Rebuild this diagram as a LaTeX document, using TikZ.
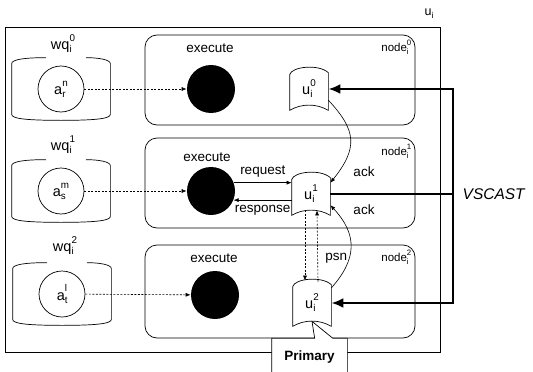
\documentclass[tikz,border=0pt]{standalone}
\usepackage{fontspec}
\setmainfont{Liberation Sans}
\usepackage{tikz}
\usetikzlibrary{arrows.meta, positioning, calc}
\makeatletter
\newcommand{\smallidx}{\fontsize{\fpeval{0.68*\f@size}}{0}\selectfont}
\makeatother
\newcommand{\idx}[2]{\rlap{\raisebox{-0.4ex}{\smallidx #1}}\raisebox{1.05ex}{\smallidx #2}}

\begin{document}
\begin{tikzpicture}[
  x=1pt, y=-1pt, line width=0.7pt,
  font=\fontsize{13.5}{16}\selectfont,
  nodebox/.style={rectangle, draw, rounded corners=12pt, minimum width=270pt, minimum height=90pt},
  queue/.style={rectangle, minimum width=98pt, minimum height=62pt, inner sep=0pt},
  job/.style={circle, draw, minimum size=46pt, inner sep=0pt, font=\fontsize{14.5}{16}\selectfont},
  exec/.style={circle, fill=black, minimum size=48pt, inner sep=0pt},
  ustore/.style={rectangle, minimum width=38pt, minimum height=42pt, inner sep=0pt, font=\fontsize{14.5}{16}\selectfont},
  qlabel/.style={font=\fontsize{14.5}{16}\selectfont},
  nlabel/.style={font=\fontsize{11.5}{13}\selectfont, anchor=east},
  primbox/.style={rectangle, minimum width=75pt, minimum height=38pt, inner sep=0pt},
  vslabel/.style={font=\fontsize{15.5}{18}\selectfont\itshape},
  dotarr/.style={-{Latex[length=5pt,width=4pt]}, dash pattern=on 2pt off 1.5pt, line width=0.6pt},
  arr/.style={-{Latex[length=5pt,width=4pt]}, line width=0.6pt},
  vsline/.style={line width=2.8pt},
  vstip/.style={{Latex[length=12pt,width=10pt]}-{Latex[length=12pt,width=10pt]}}
]
\useasboundingbox (0,0) rectangle (533,372);
\clip (0,0) rectangle (533,372);

\node[draw, rectangle, minimum width=435pt, minimum height=325pt] (ui) at (222.5,189.5) {};
\node[font=\fontsize{12.5}{14}\selectfont] (uilbl) at (429,14) {u\raisebox{-0.4ex}{\smallidx i}};

\node[nodebox] (node0) at (280,80) {};
\node[nodebox] (node1) at (280,183) {};
\node[nodebox, minimum height=93pt] (node2) at (280,291.5) {};
\node[nlabel] (n0lbl) at (415,47) {node\idx{i}{0}};
\node[nlabel] (n1lbl) at (415,151) {node\idx{i}{1}};
\node[nlabel] (n2lbl) at (415,257) {node\idx{i}{2}};

\node[queue] (q0) at (61,89) {};
\node[queue] (q1) at (61,191) {};
\node[queue] (q2) at (62,294) {};
\foreach \q in {q0,q1,q2}
  \draw ($(\q.north)+(-15,0)$) .. controls ($(\q.north west)+(12,0)$) and ($(\q.north west)+(0,2)$) .. ($(\q.north west)+(0,6)$)
    -- ($(\q.south west)+(0,-6)$) .. controls ($(\q.south west)+(0,-2)$) and ($(\q.south west)+(12,0)$) .. (\q.south)
    .. controls ($(\q.south east)+(-12,0)$) and ($(\q.south east)+(0,-2)$) .. ($(\q.south east)+(0,-6)$)
    -- ($(\q.north east)+(0,6)$) .. controls ($(\q.north east)+(0,2)$) and ($(\q.north east)+(-12,0)$) .. ($(\q.north)+(25,0)$);
\node[qlabel] (wq0) at (63,44) {wq\idx{i}{0}};
\node[qlabel] (wq1) at (63,145) {wq\idx{i}{1}};
\node[qlabel] (wq2) at (65,246) {wq\idx{i}{2}};

\node[job] (ar) at (q0) {a\idx{r}{n}};
\node[job] (as) at (q1) {a\idx{s}{m}};
\node[job] (at) at (q2) {a\idx{t}{l}};

\node[exec] (e0) at (211,89) {};
\node[exec] (e1) at (211,191) {};
\node[exec] (e2) at (215,295) {};
\node (x0) at (210,48) {execute};
\node (x1) at (207,157) {execute};
\node (x2) at (214,258) {execute};

\draw[dotarr] (ar) -- (e0);
\draw[dotarr] (as) -- (e1);
\draw[dotarr] (at) -- (e2);

\node[ustore] (u0) at (309,89) {u\idx{i}{0}};
\node[ustore] (u1) at (311,194) {u\idx{i}{1}};
\node[ustore, minimum height=46pt] (u2) at (312,303) {u\idx{i}{2}};
\foreach \u in {u0,u1,u2}
  \draw ($(\u.north west)+(0,7)$) .. controls ($(\u.north west)+(2,-1)$) and ($(\u.north east)+(-10,-4)$) .. ($(\u.north east)+(0,5)$)
    -- (\u.south east) .. controls ($(\u.south east)+(-12,-7)$) and ($(\u.south west)+(12,-7)$) .. (\u.south west) -- cycle;

\draw[arr] (e1.20) -- (e1.20 -| u1.west) node[midway, above=2pt] (req) {request};
\draw[arr] (u1.west |- e1.-22) -- (e1.-22) node[midway, below=1pt] (resp) {response};

\draw[arr] (u0.-30) .. controls +(28,30) and +(28,-35) .. (u1.30);
\draw[arr] (u2.38) .. controls +(25,-28) and +(28,30) .. (u1.-30);
\node (ack0) at (364,172) {ack};
\node (ack1) at (364,210) {ack};

\draw[dotarr] ([xshift=-6pt,yshift=5pt]u1.south) -- ([xshift=-7pt,yshift=-1pt]u2.north);
\draw[dotarr] ([xshift=6pt,yshift=-2pt]u2.north) -- ([xshift=6pt,yshift=5pt]u1.south) node[pos=0.33, right=4pt] (psn) {psn};

\coordinate (vx) at (453,0);
\draw[vsline, vstip] (u0.east) -- (u0.east -| vx) -- (u2.east -| vx) -- (u2.east);
\draw[vsline] (u1.east) -- (u1.east -| vx) coordinate (vmid);
\node[vslabel, right=6pt of vmid] (vscast) {VSCAST};

\node[primbox] (prim) at (309.5,357.5) {};
\coordinate (tip) at ($(u2.south)+(0,-5)$);
\filldraw[fill=white] (prim.south west) -- (prim.north west) -- ([xshift=43pt]prim.north west) -- (tip)
  -- ([xshift=61pt]prim.north west) -- (prim.north east) -- (prim.south east);
\node[font=\fontsize{13.5}{16}\selectfont\bfseries] (primtxt) at (prim) {Primary};
\end{tikzpicture}
\end{document}
